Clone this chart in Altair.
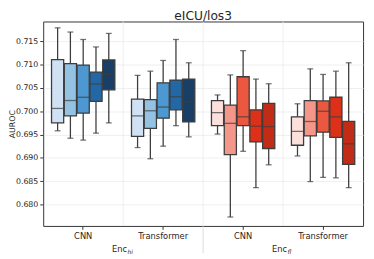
import altair as alt
import pandas as pd

# ---- data ----
cats = ["hi|CNN", "hi|Transformer", "fl|CNN", "fl|Transformer"]
models = ["m1", "m2", "m3", "m4", "m5"]

whisk_lo = {
    "hi|CNN": [0.6958, 0.6942, 0.6938, 0.6953, 0.6975],
    "hi|Transformer": [0.6922, 0.6898, 0.6925, 0.6969, 0.6945],
    "fl|CNN": [0.6951, 0.6773, 0.6914, 0.6836, 0.6885],
    "fl|Transformer": [0.6904, 0.6849, 0.6858, 0.6857, 0.6836],
}
q1 = {
    "hi|CNN": [0.6975, 0.6990, 0.6996, 0.7021, 0.7046],
    "hi|Transformer": [0.6946, 0.6963, 0.6985, 0.7003, 0.6977],
    "fl|CNN": [0.6969, 0.6907, 0.6969, 0.6934, 0.6920],
    "fl|Transformer": [0.6927, 0.6947, 0.6955, 0.6944, 0.6886],
}
median = {
    "hi|CNN": [0.7006, 0.7023, 0.7030, 0.7058, 0.7079],
    "hi|Transformer": [0.6990, 0.7001, 0.7009, 0.7031, 0.7020],
    "fl|CNN": [0.6997, 0.6974, 0.6988, 0.6968, 0.6967],
    "fl|Transformer": [0.6957, 0.6978, 0.7000, 0.6988, 0.6930],
}
q3 = {
    "hi|CNN": [0.7111, 0.7102, 0.7099, 0.7084, 0.7110],
    "hi|Transformer": [0.7026, 0.7025, 0.7061, 0.7067, 0.7069],
    "fl|CNN": [0.7023, 0.7013, 0.7074, 0.7003, 0.7017],
    "fl|Transformer": [0.6988, 0.7023, 0.7022, 0.7030, 0.6978],
}
whisk_hi = {
    "hi|CNN": [0.7179, 0.7170, 0.7154, 0.7138, 0.7167],
    "hi|Transformer": [0.7077, 0.7086, 0.7109, 0.7154, 0.7104],
    "fl|CNN": [0.7035, 0.7078, 0.7130, 0.7069, 0.7059],
    "fl|Transformer": [0.7016, 0.7091, 0.7079, 0.7086, 0.7104],
}
blues = ["#cfe1f2", "#93c2e2", "#4d98d0", "#2367a5", "#193f66"]
reds = ["#fce0dc", "#f4968a", "#ec5740", "#dc3118", "#c22c16"]
y_ticks = [0.680, 0.685, 0.690, 0.695, 0.700, 0.705, 0.710, 0.715]
group_labels = [("hi|CNN", "Enc", "hi"), ("fl|CNN", "Enc", "fl")]
title_text = "eICU/los3"

# ---- tables ----
rows = []
for c in cats:
    for i, m in enumerate(models):
        rows.append(dict(cat=c, model=m, key=c.split("|")[0] + m,
                         wl=whisk_lo[c][i], q1=q1[c][i], med=median[c][i],
                         q3=q3[c][i], wh=whisk_hi[c][i]))
df = pd.DataFrame(rows)
color_domain = ["hi" + m for m in models] + ["fl" + m for m in models]
color_range = blues + reds

grid_df = pd.DataFrame({"cat": cats[1:]})
sep_df = pd.DataFrame({"cat": [cats[2]]})
lab_df = pd.DataFrame(group_labels, columns=["cat", "main", "sub"])
title_df = pd.DataFrame({"t": [title_text]})

W, H = 327, 209
FONT = "DejaVu Sans"
INK = "#3d3d3d"

xscale = alt.Scale(domain=cats, paddingInner=0, paddingOuter=0)
xaxis = alt.Axis(title=None, labelExpr="split(datum.label, '|')[1]", labelFontSize=8.5,
                 labelFont=FONT, labelColor="#262626", tickSize=3.5, tickColor="#333",
                 labelPadding=2, domain=False, grid=False, labelAngle=0)
X = alt.X("cat:N", scale=xscale, axis=xaxis)
XO = alt.XOffset("model:N", scale=alt.Scale(domain=models, paddingInner=0.05, paddingOuter=0.65))
yscale = alt.Scale(domain=[0.67538, 0.71926], nice=False, zero=False)
yaxis = alt.Axis(values=y_ticks, format=".3f", title="AUROC", labelFont=FONT, labelFontSize=8,
                 labelColor="#262626", tickSize=3.5, tickColor="#333", labelPadding=2,
                 labelOverlap=False, domain=False, gridColor="#ebebeb", gridWidth=0.8,
                 titleFont=FONT, titleFontSize=8, titleFontWeight="normal", titleColor="#262626",
                 titleX=-31.5, titleY=H / 2, titleAngle=-90, titleAlign="center",
                 titleBaseline="middle")


def Y(field):
    return alt.Y(field, scale=yscale, axis=yaxis, title="AUROC")


vgrid = alt.Chart(grid_df).mark_rule(color="#ebebeb", strokeWidth=0.8).encode(
    x=alt.X("cat:N", scale=xscale, axis=xaxis, bandPosition=0))
sep = alt.Chart(sep_df).mark_rule(color="#d4d4d4", strokeWidth=0.8).encode(
    x=alt.X("cat:N", bandPosition=0), y=alt.value(H), y2=alt.value(H + 28))

base = alt.Chart(df).encode(x=X, xOffset=XO)
whisk = base.mark_rule(color=INK, strokeWidth=1.3).encode(y=Y("wl:Q"), y2="wh:Q")
cap_lo = base.mark_tick(color=INK, size=6, thickness=1.3).encode(y=Y("wl:Q"))
cap_hi = base.mark_tick(color=INK, size=6, thickness=1.3).encode(y=Y("wh:Q"))
box = base.mark_bar(stroke=INK, strokeWidth=1.3).encode(
    y=Y("q1:Q"), y2="q3:Q",
    color=alt.Color("key:N", scale=alt.Scale(domain=color_domain, range=color_range), legend=None))
med = base.mark_tick(color=INK, size=12.4, thickness=1.3).encode(y=Y("med:Q"))

enc_main = alt.Chart(lab_df).mark_text(align="right", baseline="alphabetic", dx=4, font=FONT,
                                       fontSize=8.5, color="#262626").encode(
    x=alt.X("cat:N", bandPosition=1), y=alt.value(H + 27), text="main:N")
enc_sub = alt.Chart(lab_df).mark_text(align="left", baseline="alphabetic", dx=4.5, font=FONT,
                                      fontSize=6, fontStyle="italic", color="#262626").encode(
    x=alt.X("cat:N", bandPosition=1), y=alt.value(H + 29), text="sub:N")
title = alt.Chart(title_df).mark_text(align="center", baseline="alphabetic", font=FONT,
                                      fontSize=12.5, color="#262626").encode(
    x=alt.value(W / 2), y=alt.value(-1.5), text="t:N")

chart = alt.layer(vgrid, sep, whisk, cap_lo, cap_hi, box, med, enc_main, enc_sub, title).properties(
    width=W, height=H,
    autosize=alt.AutoSizeParams(type="none"),
    padding={"left": 36, "top": 11, "right": 3, "bottom": 31},
).configure_view(stroke="#333", strokeWidth=1)

chart.save("out.html", embed_options={"renderer": "svg", "actions": False})
